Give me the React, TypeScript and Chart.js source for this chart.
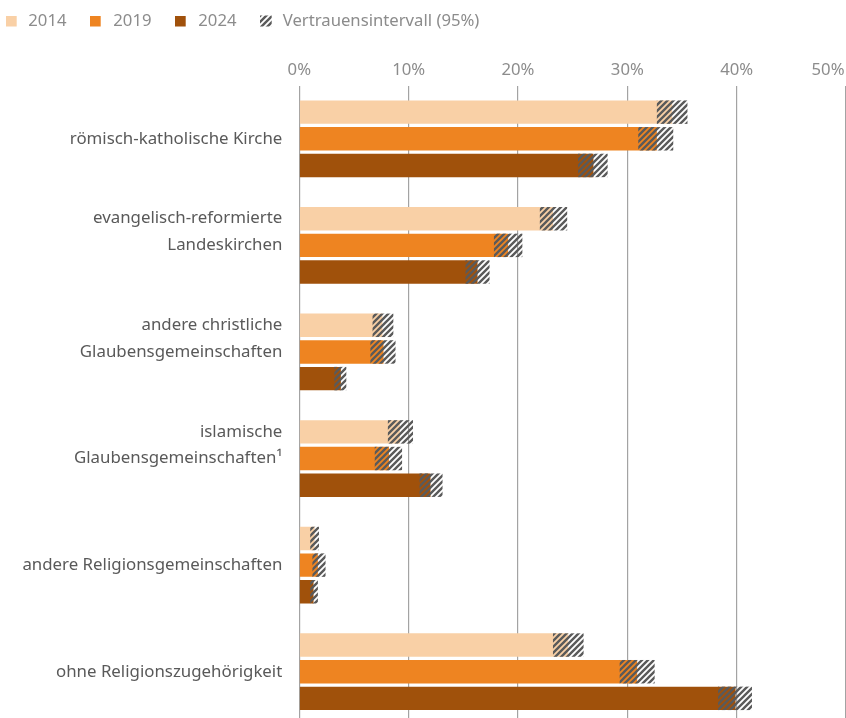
import React, { useEffect, useRef } from 'react';
import { Chart, registerables } from 'chart.js';

Chart.register(...registerables);

// ---------- data ----------
const categories: (string | string[])[] = [
  'römisch-katholische Kirche',
  ['evangelisch-reformierte', 'Landeskirchen', ''],
  ['andere christliche', 'Glaubensgemeinschaften', ''],
  ['islamische', 'Glaubensgemeinschaften¹', ''],
  'andere Religionsgemeinschaften',
  'ohne Religionszugehörigkeit',
];

const seriesLabels = ['2014', '2019', '2024'];
const ciLabel = 'Vertrauensintervall (95%)';

const values2014 = [34.1, 23.2, 7.6, 9.2, 1.4, 24.6];
const values2019 = [32.7, 19.1, 7.7, 8.2, 1.7, 30.9];
const values2024 = [26.9, 16.3, 3.8, 12.0, 1.3, 39.9];

const lower2014 = [32.7, 22.0, 6.7, 8.1, 1.0, 23.2];
const upper2014 = [35.5, 24.5, 8.6, 10.4, 1.8, 26.0];
const lower2019 = [31.0, 17.8, 6.5, 6.9, 1.2, 29.3];
const upper2019 = [34.2, 20.4, 8.8, 9.4, 2.4, 32.5];
const lower2024 = [25.5, 15.2, 3.2, 11.0, 1.0, 38.3];
const upper2024 = [28.2, 17.4, 4.3, 13.1, 1.7, 41.4];

const xMin = 0;
const xMax = 50;
const xStep = 10;

// ---------- styles ----------
const colors = ['#f9d0a6', '#ee8421', '#a0510b'];
const FONT = '"Noto Sans", "Open Sans", sans-serif';
const W = 846;
const H = 725;
const LABEL_SIZE = 16.85;
const SMALL_SIZE = 16.7;

function makePattern(ctx: CanvasRenderingContext2D) {
  const p = 6;
  const c = document.createElement('canvas');
  c.width = p;
  c.height = p;
  const g = c.getContext('2d')!;
  g.strokeStyle = '#5a5a5a';
  g.lineWidth = 2.4;
  g.lineCap = 'square';
  g.beginPath();
  g.moveTo(-1, p + 1);
  g.lineTo(p + 1, -1);
  g.moveTo(-1, 1);
  g.lineTo(1, -1);
  g.moveTo(p - 1, p + 1);
  g.lineTo(p + 1, p - 1);
  g.stroke();
  return ctx.createPattern(c, 'repeat')!;
}

export default function App() {
  const ref = useRef<HTMLCanvasElement>(null);

  useEffect(() => {
    const canvas = ref.current!;
    const lowers = [lower2014, lower2019, lower2024];
    const uppers = [upper2014, upper2019, upper2024];
    const seriesValues = [values2014, values2019, values2024];

    const ciPlugin = {
      id: 'ciPlugin',
      afterDatasetsDraw(chart: any) {
        const ctx = chart.ctx as CanvasRenderingContext2D;
        const pattern = makePattern(ctx);
        const xs = chart.scales.x;
        chart.data.datasets.forEach((_ds: any, i: number) => {
          const meta = chart.getDatasetMeta(i);
          meta.data.forEach((el: any, j: number) => {
            const { y, height } = el.getProps(['y', 'height'], true);
            const x0 = xs.getPixelForValue(lowers[i][j]);
            const x1 = xs.getPixelForValue(uppers[i][j]);
            ctx.save();
            ctx.fillStyle = pattern;
            ctx.fillRect(x0, y - height / 2, x1 - x0, height);
            ctx.restore();
          });
        });
      },
    };

    const decoPlugin = {
      id: 'decoPlugin',
      afterDraw(chart: any) {
        const ctx = chart.ctx as CanvasRenderingContext2D;
        const xs = chart.scales.x;
        ctx.save();
        // top axis tick labels
        ctx.font = `${SMALL_SIZE}px ${FONT}`;
        ctx.fillStyle = '#8c8c8c';
        ctx.textBaseline = 'middle';
        ctx.textAlign = 'center';
        xs.ticks.forEach((t: any) => {
          const label = `${t.value}%`;
          const w = ctx.measureText(label).width;
          let px = xs.getPixelForValue(t.value);
          px = Math.min(px, chart.width - 1.5 - w / 2);
          ctx.fillText(label, px, 70);
        });
        // legend
        const pattern = makePattern(ctx);
        const items = [
          { text: seriesLabels[0], color: colors[0], x: 6, tx: 28.3 },
          { text: seriesLabels[1], color: colors[1], x: 90, tx: 113.3 },
          { text: seriesLabels[2], color: colors[2], x: 175, tx: 198.3 },
        ];
        ctx.textAlign = 'left';
        items.forEach((it) => {
          ctx.fillStyle = it.color;
          ctx.fillRect(it.x, 16, 10.7, 10.5);
          ctx.fillStyle = '#8c8c8c';
          ctx.fillText(it.text, it.tx, 21);
        });
        ctx.fillStyle = pattern;
        ctx.fillRect(260, 15.5, 11.7, 11);
        ctx.fillStyle = '#8c8c8c';
        ctx.fillText(ciLabel, 282.7, 21);
        ctx.restore();
      },
    };

    const chart = new Chart(canvas, {
      type: 'bar',
      data: {
        labels: categories,
        datasets: seriesLabels.map((label, i) => ({
          label,
          data: seriesValues[i],
          backgroundColor: colors[i],
          borderWidth: 0,
          categoryPercentage: 0.75,
          barPercentage: 0.88,
        })),
      },
      options: {
        indexAxis: 'y',
        responsive: false,
        animation: false,
        devicePixelRatio: 1,
        layout: { padding: { top: 85.5, left: 0, right: 0, bottom: 0 } },
        plugins: {
          legend: { display: false },
          tooltip: { enabled: false },
        },
        scales: {
          x: {
            position: 'top',
            min: xMin,
            max: xMax,
            ticks: { display: false, stepSize: xStep },
            grid: { color: '#a3a3a3', lineWidth: 1.2, drawTicks: false },
            border: { display: false },
            afterFit: (s: any) => {
              s.paddingLeft = 0;
              s.paddingRight = 0;
              s.height = 0;
            },
          },
          y: {
            ticks: {
              color: '#595959',
              padding: 17,
              font: { family: FONT, size: LABEL_SIZE, lineHeight: 26.7 / LABEL_SIZE },
            },
            grid: { display: false, drawTicks: false },
            border: { display: false },
            afterFit: (s: any) => {
              s.width = 299.3;
              s.paddingTop = 0;
              s.paddingBottom = 0;
            },
          },
        },
      },
      plugins: [ciPlugin, decoPlugin],
    } as any);

    return () => chart.destroy();
  }, []);

  return (
    <div
      style={{
        position: 'fixed',
        left: 0,
        top: 0,
        width: W,
        height: 718,
        overflow: 'hidden',
        background: '#ffffff',
      }}
    >
      <canvas ref={ref} width={W} height={H} style={{ display: 'block', width: W, height: H }} />
    </div>
  );
}
